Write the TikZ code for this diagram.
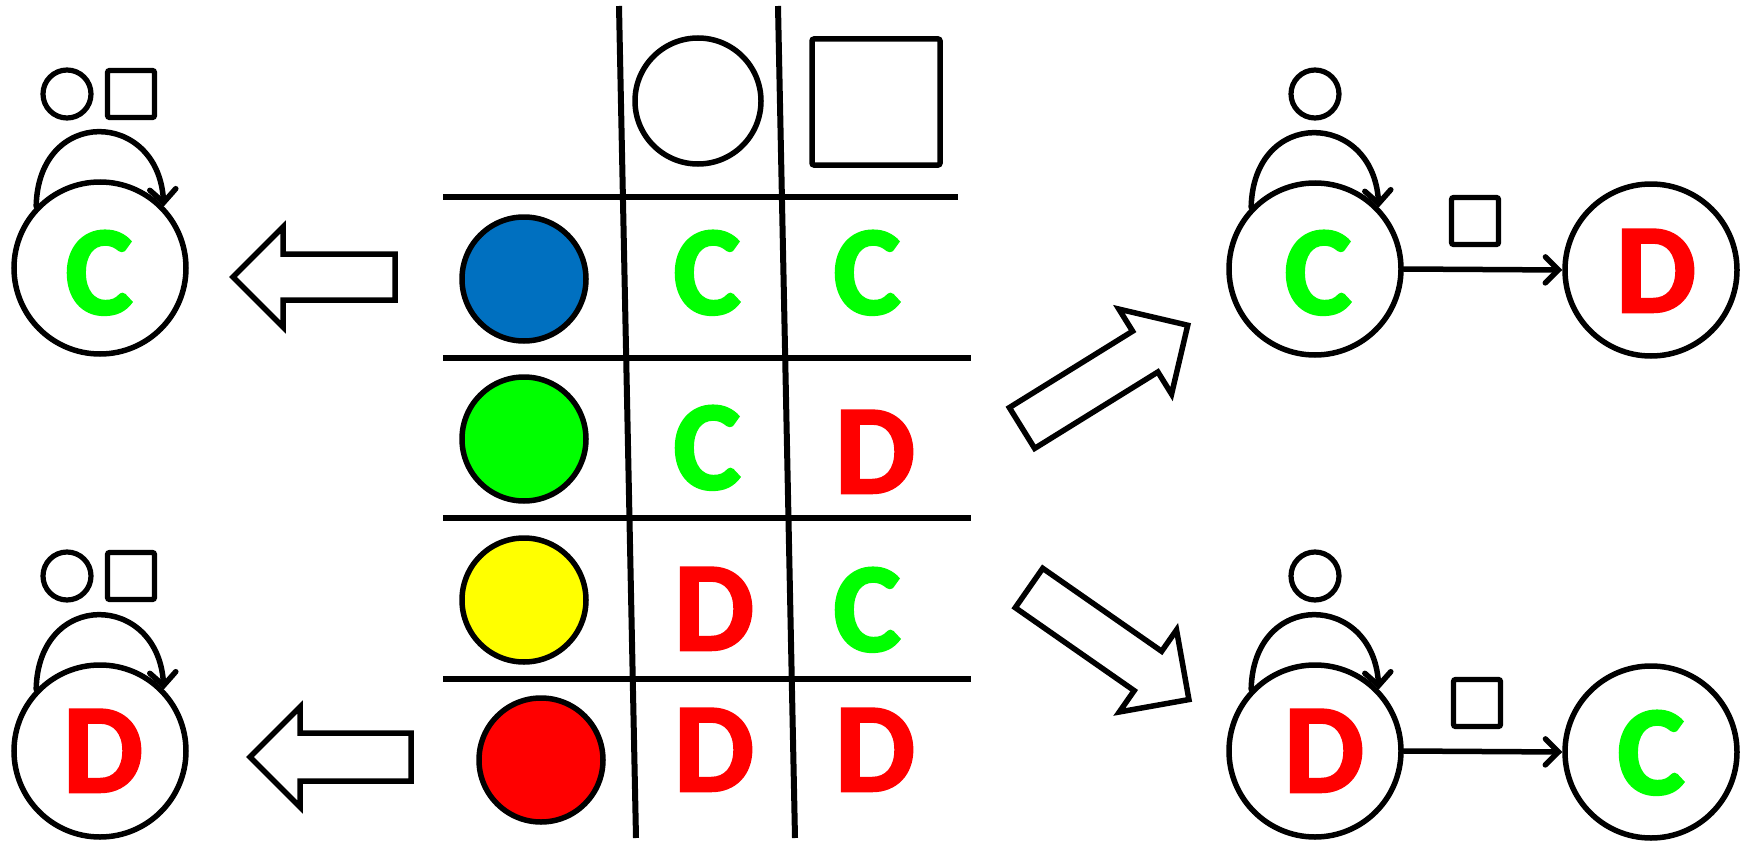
\documentclass[tikz,border=0pt]{standalone}
\usepackage{fontspec}
\setmainfont{Carlito}[BoldFeatures={FakeBold=2}]
\usetikzlibrary{arrows.meta}
\definecolor{cgreen}{RGB}{0,255,0}
\definecolor{cred}{RGB}{255,0,0}
\definecolor{cblue}{RGB}{0,112,192}
\definecolor{cyellow}{RGB}{255,255,0}
\begin{document}
\begin{tikzpicture}[x=1pt,y=-1pt,
  bigstate/.style={circle, draw, line width=5.5pt, minimum size=172pt, inner sep=0pt},
  smallcirc/.style={circle, draw, line width=5.2pt, minimum size=48pt, inner sep=0pt},
  smallsq/.style={rectangle, draw, line width=5.2pt, minimum size=47pt, inner sep=0pt, rounded corners=2pt},
  rowcirc/.style={circle, draw, line width=5.5pt, minimum size=124pt, inner sep=0pt},
  letter/.style={font=\fontsize{127}{127}\selectfont\bfseries, inner sep=0pt, anchor=base},
  tline/.style={line width=6pt},
  blockarrow/.style={draw, line width=5.5pt, fill=white, line join=miter},
  selfloop/.style={line width=5.5pt, line cap=round, -{Straight Barb[length=13pt,width=26pt,line cap=round]}},
  move/.style={line width=5.5pt, line cap=round, -{Straight Barb[length=13pt,width=26pt,line cap=round]}}
]
\useasboundingbox (0,0) rectangle (1749,843);

% ---------- table ----------
\draw[tline] (443,197) -- (958,197);
\draw[tline] (443,358) -- (971,358);
\draw[tline] (443,518) -- (971,518);
\draw[tline] (443,679) -- (971,679);
\draw[tline] (619,6) -- (636,838);
\draw[tline] (778,6) -- (795,838);

\node[circle, draw, line width=5.5pt, minimum size=126pt, inner sep=0pt] (hc) at (698,101) {};
\node[rectangle, draw, line width=5.5pt, minimum width=128pt, minimum height=126pt, inner sep=0pt, rounded corners=2pt] (hs) at (876,102) {};

\node[rowcirc, fill=cblue] (r1) at (524,279) {};
\node[rowcirc, fill=cgreen] (r2) at (524,439) {};
\node[rowcirc, fill=cyellow] (r3) at (524,600) {};
\node[rowcirc, fill=cred] (r4) at (541,760) {};

\node[letter, text=cgreen] (t11) at (707,314) {C};
\node[letter, text=cgreen] (t12) at (867,314) {C};
\node[letter, text=cgreen] (t21) at (707,489) {C};
\node[letter, text=cred]   (t22) at (875,493) {D};
\node[letter, text=cred]   (t31) at (714,650) {D};
\node[letter, text=cgreen] (t32) at (867,651) {C};
\node[letter, text=cred]   (t41) at (714,791) {D};
\node[letter, text=cred]   (t42) at (875,791) {D};

% ---------- block arrows ----------
\draw[blockarrow, shift={(395,277)}, rotate=180]
  (0,-23) -- (112,-23) -- (112,-50) -- (162,0) -- (112,50) -- (112,23) -- (0,23) -- cycle;
\draw[blockarrow, shift={(411,757)}, rotate=180]
  (0,-24) -- (111,-24) -- (111,-50) -- (161,0) -- (111,50) -- (111,24) -- (0,24) -- cycle;
\draw[blockarrow, shift={(1022,428)}, rotate=31.8]
  (0,-24) -- (145,-24) -- (145,-50) -- (195,0) -- (145,50) -- (145,24) -- (0,24) -- cycle;
\draw[blockarrow, shift={(1029,588)}, rotate=-34.9]
  (0,-24) -- (145,-24) -- (145,-50) -- (195,0) -- (145,50) -- (145,24) -- (0,24) -- cycle;

% ---------- left top ----------
\node[smallcirc] (ltc) at (67,94) {};
\node[smallsq] (lts) at (131,94) {};
\node[bigstate] (lt) at (100,268) {};
\node[letter, text=cgreen] at (99,314) {C};
\draw[selfloop] (lt.136) .. controls +(2,-100) and +(-6,-97) .. (lt.44);

% ---------- left bottom ----------
\node[smallcirc] (lbc) at (67,576) {};
\node[smallsq] (lbs) at (131,576) {};
\node[bigstate] (lb) at (100,751) {};
\node[letter, text=cred] at (103,792) {D};
\draw[selfloop] (lb.136) .. controls +(2,-100) and +(-6,-97) .. (lb.44);

% ---------- right top ----------
\node[smallcirc] (rtc) at (1315,94) {};
\node[bigstate] (rt) at (1315,269) {};
\node[letter, text=cgreen] at (1318,314) {C};
\draw[selfloop] (rt.136) .. controls +(2,-100) and +(-6,-97) .. (rt.44);
\node[smallsq] (rts) at (1475,221) {};
\node[bigstate] (rtd) at (1651,270) {};
\node[letter, text=cred] at (1656,312) {D};
\draw[move] (rt.east) -- (rtd.west);

% ---------- right bottom ----------
\node[smallcirc] (rbc) at (1315,576) {};
\node[bigstate] (rb) at (1315,751) {};
\node[letter, text=cred] at (1324,792) {D};
\draw[selfloop] (rb.136) .. controls +(2,-100) and +(-6,-97) .. (rb.44);
\node[smallsq] (rbs) at (1477,703) {};
\node[bigstate] (rbd) at (1651,752) {};
\node[letter, text=cgreen] at (1651,794) {C};
\draw[move] (rb.east) -- (rbd.west);
\end{tikzpicture}
\end{document}
